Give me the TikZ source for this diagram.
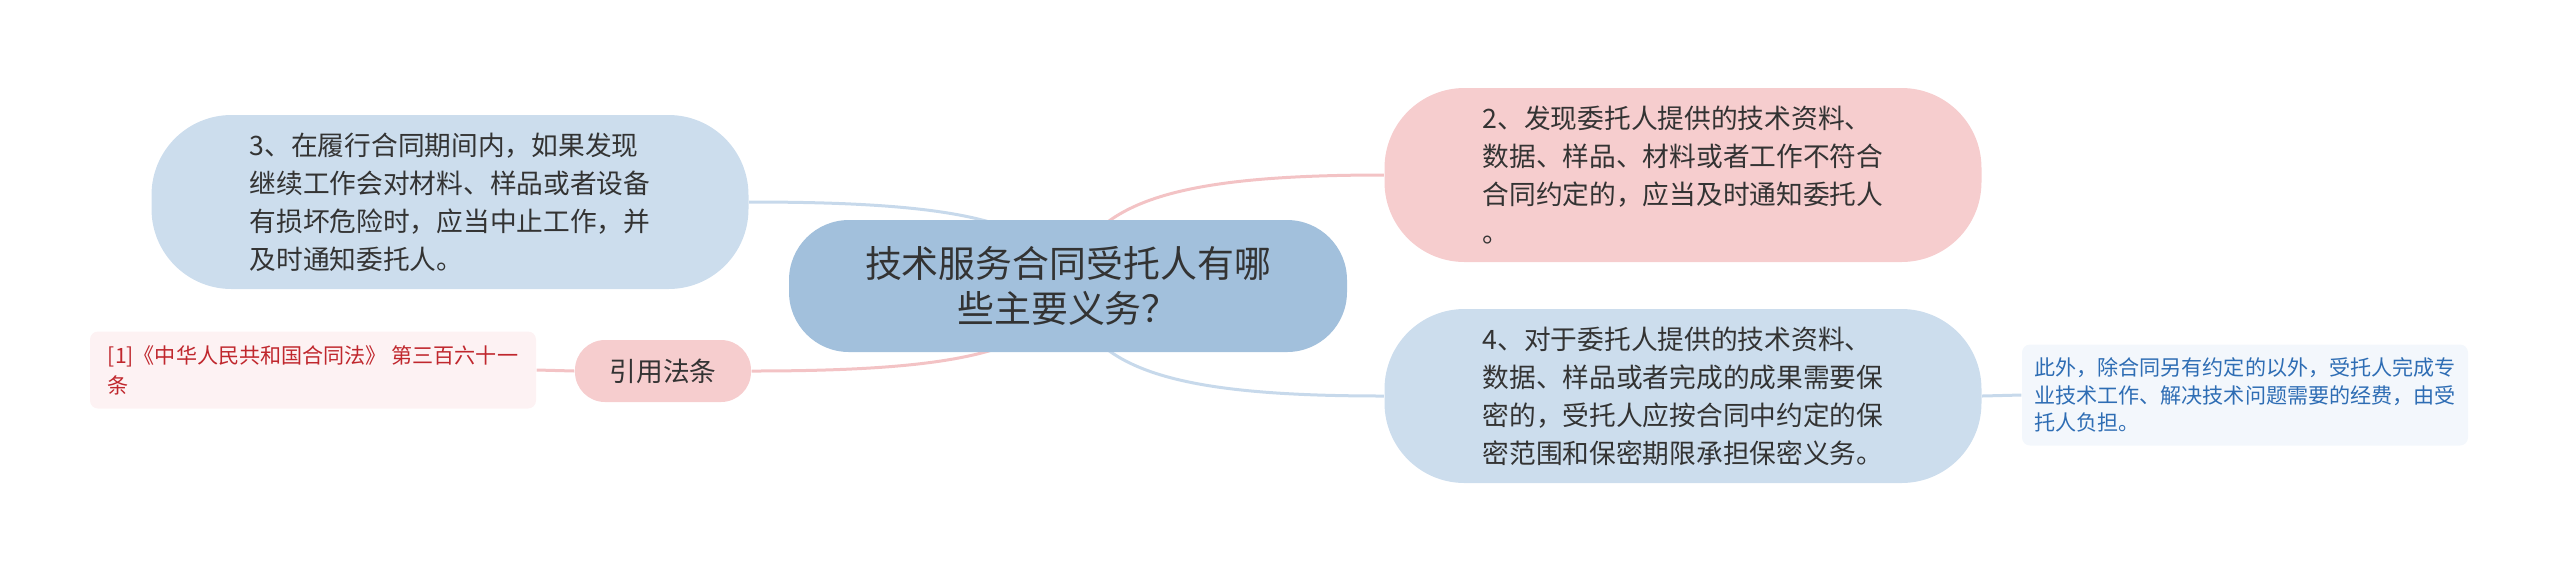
\documentclass[tikz,border=0pt]{standalone}
\usepackage{fontspec}
\setmainfont{Noto Sans CJK SC}
\usetikzlibrary{backgrounds}
\definecolor{rootfill}{HTML}{A2C0DC}
\definecolor{bluefill}{HTML}{CCDDED}
\definecolor{pinkfill}{HTML}{F6CDCE}
\definecolor{bluelink}{HTML}{C7D9EB}
\definecolor{pinklink}{HTML}{F3C3C5}
\definecolor{lawfill}{HTML}{FDF2F3}
\definecolor{lawtext}{HTML}{C0272D}
\definecolor{notefill}{HTML}{F3F7FC}
\definecolor{notetext}{HTML}{2E6DB4}
\definecolor{inktext}{HTML}{333333}

\begin{document}
\begin{tikzpicture}[
  x=0.1mm, y=-0.1mm,
  box/.style   ={inner sep=0pt, text=inktext, align=left,
                 minimum width=59.7mm, minimum height=17.4mm, rounded corners=8mm,
                 font=\fontsize{7.6pt}{10.8pt}\selectfont},
  root/.style  ={box, fill=rootfill, align=center, minimum width=55.8mm,
                 minimum height=13.2mm, rounded corners=6mm,
                 font=\fontsize{10.5pt}{13pt}\selectfont},
  sub/.style   ={box, fill=bluefill},
  alt/.style   ={box, fill=pinkfill},
  tag/.style   ={box, fill=pinkfill, align=center, minimum width=17.6mm,
                 minimum height=6.2mm, rounded corners=3mm},
  leaf/.style  ={inner sep=0pt, align=left, minimum width=44.6mm,
                 rounded corners=0.8mm, font=\fontsize{6pt}{8.6pt}\selectfont},
  law/.style   ={leaf, fill=lawfill, text=lawtext, minimum height=7.7mm},
  note/.style  ={leaf, fill=notefill, text=notetext, minimum height=10.1mm,
                 font=\fontsize{6pt}{7.9pt}\selectfont},
  link/.style  ={line width=0.3mm},
]
\useasboundingbox (0,0) rectangle (2560,573);

\node[root] (root) at (1068,286) {技术服务合同受托人有哪\\些主要义务？};
\node[sub]  (n3)   at (450,202)  {3、在履行合同期间内，如果发现\\继续工作会对材料、样品或者设备\\有损坏危险时，应当中止工作，并\\及时通知委托人。};
\node[alt]  (n2)   at (1683,175) {2、发现委托人提供的技术资料、\\数据、样品、材料或者工作不符合\\合同约定的，应当及时通知委托人\\。};
\node[sub]  (n4)   at (1683,396) {4、对于委托人提供的技术资料、\\数据、样品或者完成的成果需要保\\密的，受托人应按合同中约定的保\\密范围和保密期限承担保密义务。};
\node[tag]  (cite) at (663,371)  {引用法条};
\node[law]  (lawref) at (313,370) {[1]《中华人民共和国合同法》 第三百六十一\\条};
\node[note] (extra)  at (2245,395) {此外，除合同另有约定的以外，受托人完成专\\业技术工作、解决技术问题需要的经费，由受\\托人负担。};

\begin{pgfonlayer}{background}
\draw[link, draw=bluelink] (root.center) .. controls +(-17,-66) and +(205,0) .. (n3.east);
\draw[link, draw=pinklink] (root.center) .. controls +(17,-86) and +(-205,0) .. (n2.west);
\draw[link, draw=bluelink] (root.center) .. controls +(17,86) and +(-205,0) .. (n4.west);
\draw[link, draw=pinklink] (root.center) .. controls +(-17,66) and +(205,0) .. (cite.east);
\draw[link, draw=pinklink] (cite.west) -- (lawref.east);
\draw[link, draw=bluelink] (n4.east) -- (extra.west);
\end{pgfonlayer}

\end{tikzpicture}
\end{document}
